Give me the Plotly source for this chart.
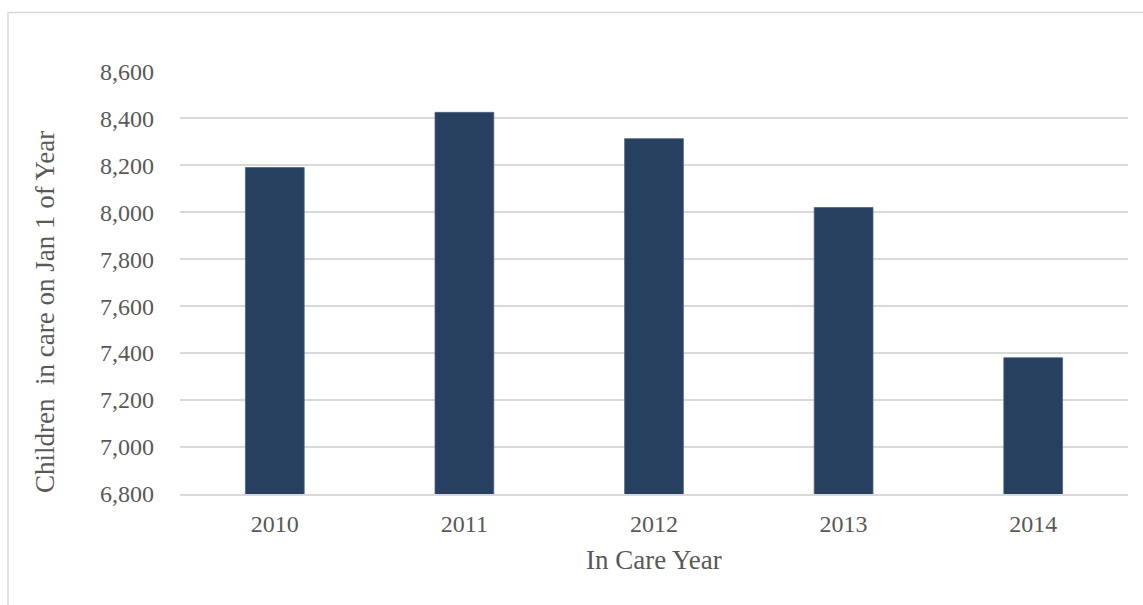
import plotly.graph_objects as go

years = ["2010", "2011", "2012", "2013", "2014"]
children = [8190, 8425, 8313, 8020, 7380]
y_ticks = [6800, 7000, 7200, 7400, 7600, 7800, 8000, 8200, 8400, 8600]
y_tick_labels = [f"{v:,}" for v in y_ticks]

FONT = "Liberation Serif, Times New Roman, serif"
TXT = "#595959"
GRID = "#d9d9d9"

fig = go.Figure(go.Bar(
    x=years, y=children,
    marker=dict(color="#27405f", line=dict(color="#4d6585", width=0.8)),
    width=0.31,
))

W, H = 1143, 605
L, R, T, B = 180, 15, 71, 111
pw, ph = W - L - R, H - T - B

fig.update_layout(
    width=W, height=H,
    margin=dict(l=L, r=R, t=T, b=B),
    paper_bgcolor="white", plot_bgcolor="white",
    showlegend=False,
    font=dict(family=FONT, color=TXT, size=24),
    xaxis=dict(showgrid=False, showline=True, linecolor=GRID, linewidth=1.6,
               ticks="", ticklabelstandoff=7,
               tickfont=dict(family=FONT, color=TXT, size=24)),
    yaxis=dict(range=[6800, 8601], tickvals=y_ticks, ticktext=y_tick_labels,
               showgrid=True, gridcolor=GRID, gridwidth=1.6, zeroline=False,
               showline=False, ticks="", ticklabelstandoff=25,
               tickfont=dict(family=FONT, color=TXT, size=24)),
    shapes=[dict(type="rect", xref="paper", yref="paper",
                 x0=(8 - L) / pw, x1=1.2, y0=-0.4, y1=1 + (T - 12.5) / ph,
                 line=dict(color=GRID, width=1.6), fillcolor="rgba(0,0,0,0)",
                 layer="below")],
    annotations=[
        dict(text="In Care Year", xref="paper", yref="paper",
             x=0.5, y=-(560 - T - ph) / ph, xanchor="center", yanchor="middle",
             showarrow=False, font=dict(family=FONT, color=TXT, size=27)),
        dict(text="Children  in care on Jan 1 of Year", xref="paper", yref="paper",
             x=(45 - L) / pw, y=1 - (312 - T) / ph, xanchor="center", yanchor="middle",
             textangle=-90, showarrow=False, font=dict(family=FONT, color=TXT, size=27)),
    ],
)

fig.write_html("out.html")
